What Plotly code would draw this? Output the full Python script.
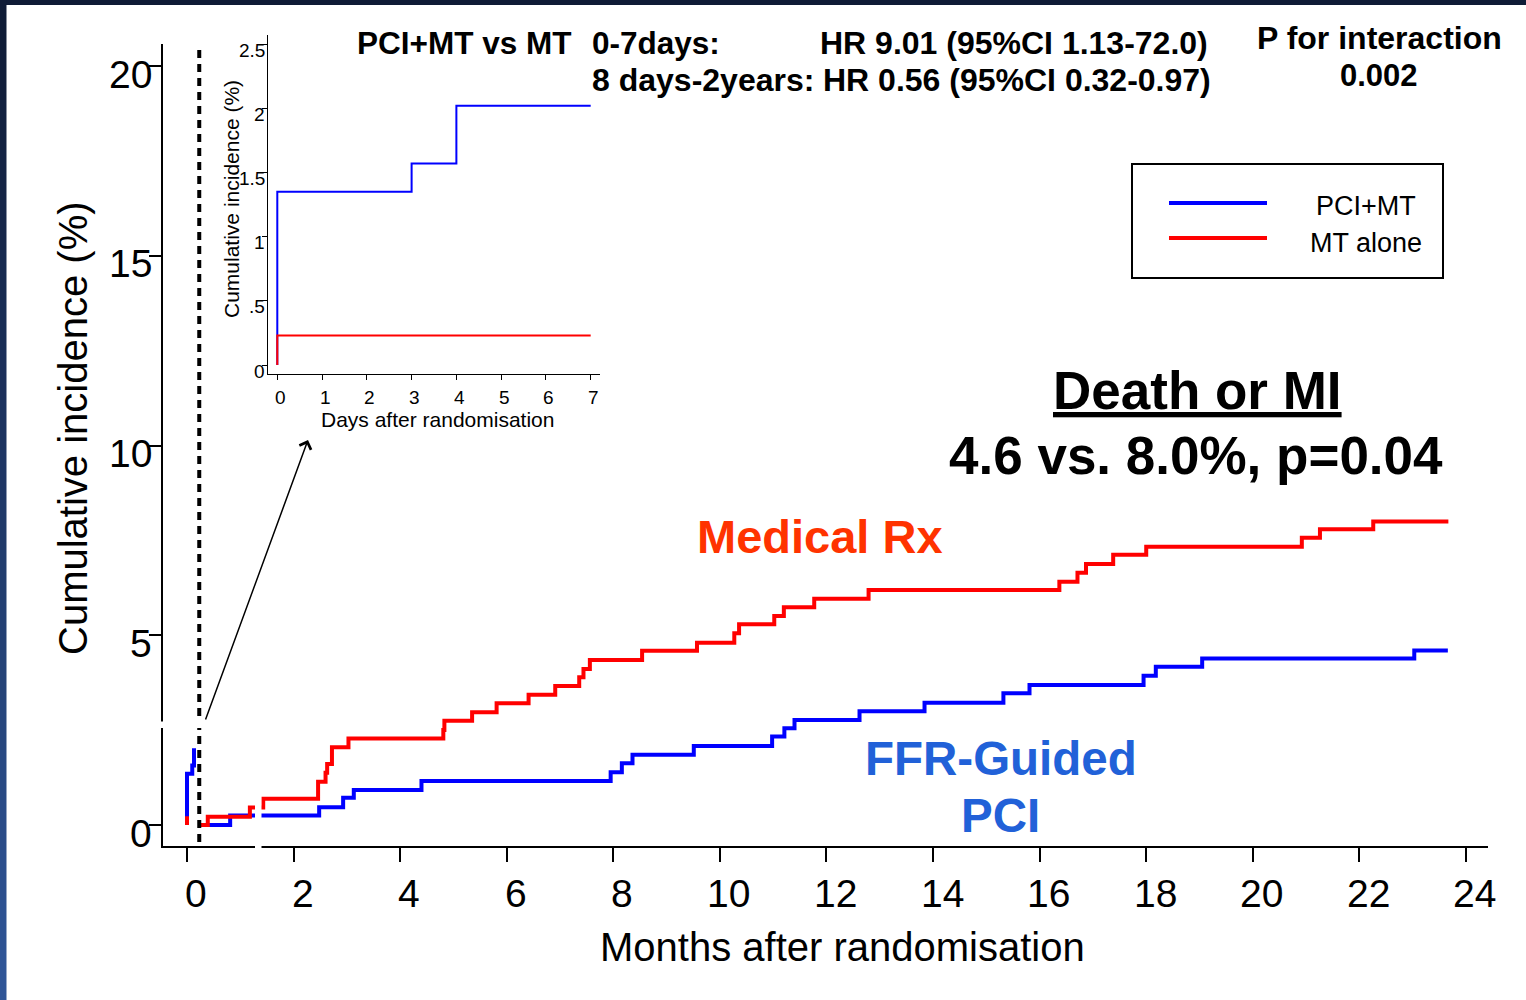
import plotly.graph_objects as go

# ---------------------------------------------------------------------------
# Data
# ---------------------------------------------------------------------------
DAYS_PER_MONTH = 30.44
LANDMARK_DAY = 7  # analysis restarts after the first week

# First week (days after randomisation), cumulative incidence in %
week_days_pci = [0, 0, 3, 4]
week_inc_pci = [0.0, 1.35, 1.57, 2.02]
week_days_mt = [0, 0]
week_inc_mt = [0.0, 0.23]

# 8 days - 2 years (months after randomisation), cumulative incidence in %
pci_months = [0.24, 0.81, 2.48, 2.93, 3.13, 4.40, 7.95, 8.16, 8.36, 9.51,
              10.98, 11.21, 11.40, 12.62, 13.84, 15.32, 15.81, 17.95, 18.18, 19.05,
              23.03, 23.66]
pci_inc = [0.0, 0.25, 0.47, 0.72, 0.92, 1.16, 1.39, 1.63, 1.85, 2.08,
           2.33, 2.55, 2.77, 3.00, 3.22, 3.47, 3.69, 3.93, 4.17, 4.39,
           4.6, 4.6]

mt_months = [0.24, 0.39, 1.18, 1.43, 2.46, 2.60, 2.63, 2.72, 3.03,
             4.81, 4.83, 5.35, 5.81, 6.41, 6.91, 7.36, 7.44, 7.56,
             8.54, 9.57, 10.27, 10.36, 11.02, 11.20, 11.77, 12.79,
             16.37, 16.71, 16.87, 17.38, 18.00,
             20.92, 21.26, 22.26, 23.67]
mt_inc = [0.0, 0.22, 0.46, 0.69, 1.14, 1.38, 1.61, 2.05, 2.28,
          2.50, 2.75, 2.97, 3.21, 3.43, 3.66, 3.89, 4.11, 4.35,
          4.59, 4.80, 5.05, 5.29, 5.51, 5.74, 5.96, 6.19,
          6.41, 6.65, 6.88, 7.12, 7.33,
          7.57, 7.79, 8.0, 8.0]

month_ticks = list(range(0, 25, 2))
inc_ticks = [0, 5, 10, 15, 20]
day_ticks = list(range(0, 8))
inset_inc_ticks = [0, 0.5, 1, 1.5, 2, 2.5]
inset_inc_labels = ["0", ".5", "1", "1.5", "2", "2.5"]

series_names = ["PCI+MT", "MT alone"]

BLUE = "#0000FF"
RED = "#FF0000"
FONT = "Liberation Sans, Arial, sans-serif"

W, H = 1526, 1000


def px(x):
    return x / W


def py(y):
    return 1 - y / H


fig = go.Figure()

# ---- main panel -----------------------------------------------------------
to_month = lambda d: [v / DAYS_PER_MONTH for v in d]

fig.add_trace(go.Scatter(x=to_month(week_days_pci), y=week_inc_pci, mode="lines",
                         line=dict(color=BLUE, width=4, shape="hv"),
                         xaxis="x", yaxis="y", showlegend=False))
fig.add_trace(go.Scatter(x=to_month(week_days_mt), y=week_inc_mt, mode="lines",
                         line=dict(color=RED, width=4, shape="hv"),
                         xaxis="x", yaxis="y", showlegend=False))
fig.add_trace(go.Scatter(x=pci_months, y=pci_inc, mode="lines", name=series_names[0],
                         line=dict(color=BLUE, width=4, shape="hv"),
                         xaxis="x", yaxis="y", showlegend=False))
fig.add_trace(go.Scatter(x=mt_months, y=mt_inc, mode="lines", name=series_names[1],
                         line=dict(color=RED, width=4, shape="hv"),
                         xaxis="x", yaxis="y", showlegend=False))

# ---- inset: first week in days ------------------------------------------
fig.add_trace(go.Scatter(x=week_days_pci + [LANDMARK_DAY], y=week_inc_pci + [week_inc_pci[-1]],
                         mode="lines", line=dict(color=BLUE, width=2, shape="hv"),
                         xaxis="x2", yaxis="y2", showlegend=False))
fig.add_trace(go.Scatter(x=week_days_mt + [LANDMARK_DAY], y=week_inc_mt + [week_inc_mt[-1]],
                         mode="lines", line=dict(color=RED, width=2, shape="hv"),
                         xaxis="x2", yaxis="y2", showlegend=False))

# ---- axes -----------------------------------------------------------------
# main: x 0 month at px 187, 53.29 px/month ; y 0 at px 825, 37.95 px/unit
x0_px, x_scale = 187, 53.29
y0_px, y_scale = 825, 37.95
main_left, main_right, main_top, main_bottom = 163, 1488, 44, 846

fig.update_layout(
    xaxis=dict(domain=[px(main_left), px(main_right)],
               range=[(main_left - x0_px) / x_scale, (main_right - x0_px) / x_scale],
               tickvals=month_ticks, showticklabels=False, ticks="outside",
               ticklen=14, tickwidth=2, tickcolor="black",
               showline=True, linewidth=2, linecolor="black",
               showgrid=False, zeroline=False, anchor="y"),
    yaxis=dict(domain=[py(main_bottom), py(main_top)],
               range=[(y0_px - main_bottom) / y_scale, (y0_px - main_top) / y_scale],
               tickvals=inc_ticks, showticklabels=False, ticks="outside",
               ticklen=12, tickwidth=2, tickcolor="black",
               showline=True, linewidth=2, linecolor="black",
               showgrid=False, zeroline=False, anchor="x"),
)

# inset: day 0 at px 277.3, 44.77 px/day ; y 0 at px 365, 128.4 px/unit
ix0_px, ix_scale = 277.3, 44.77
iy0_px, iy_scale = 365, 128.4
in_left, in_right, in_top, in_bottom = 268, 600, 35, 374

fig.update_layout(
    xaxis2=dict(domain=[px(in_left), px(in_right)],
                range=[(in_left - ix0_px) / ix_scale, (in_right - ix0_px) / ix_scale],
                tickvals=day_ticks, showticklabels=False, ticks="outside",
                ticklen=5, tickwidth=1, tickcolor="black",
                showline=True, linewidth=1.3, linecolor="black",
                showgrid=False, zeroline=False, anchor="y2"),
    yaxis2=dict(domain=[py(in_bottom), py(in_top)],
                range=[(iy0_px - in_bottom) / iy_scale, (iy0_px - in_top) / iy_scale],
                tickvals=inset_inc_ticks, showticklabels=False, ticks="outside",
                ticklen=5, tickwidth=1, tickcolor="black",
                showline=True, linewidth=1.3, linecolor="black",
                showgrid=False, zeroline=False, anchor="x2"),
)

ann = []


def text(x, y, s, size, bold=False, color="black", xanchor="center", yanchor="middle",
         xref="paper", yref="paper", xshift=0, yshift=0, angle=0):
    ann.append(dict(x=x, y=y, xref=xref, yref=yref, text=f"<b>{s}</b>" if bold else s,
                    showarrow=False, xanchor=xanchor, yanchor=yanchor,
                    xshift=xshift, yshift=yshift, textangle=angle,
                    font=dict(family=FONT, size=size, color=color)))


# main tick labels
for t in month_ticks:
    text(t, py(893), str(t), 39, xref="x", xshift=9)
for t in inc_ticks:
    text(px(154), t, str(t), 39, yref="y", xanchor="right", yshift=-8)

# inset tick labels
for t in day_ticks:
    text(t, py(397), str(t), 19, xref="x2", xshift=3)
for t, lab in zip(inset_inc_ticks, inset_inc_labels):
    text(px(267), t, lab, 19, yref="y2", xanchor="right", yshift=-6)

# axis titles
text(px(73), py(428), "Cumulative incidence (%)", 40, angle=-90)
text(px(843), py(947), "Months after randomisation", 40)
text(px(231), py(199), "Cumulative incidence (%)", 21, angle=-90)
text(px(437), py(420), "Days after randomisation", 21)

# hazard ratio header
text(px(355), py(43), "PCI+MT vs MT", 31.5, bold=True, xanchor="left")
text(px(590), py(43), "0-7days:", 31.5, bold=True, xanchor="left")
text(px(818), py(43), "HR 9.01 (95%CI 1.13-72.0)", 32, bold=True, xanchor="left")
text(px(590), py(80), "8 days-2years:", 32, bold=True, xanchor="left")
text(px(821), py(80), "HR 0.56 (95%CI 0.32-0.97)", 32, bold=True, xanchor="left")
text(px(1379), py(38), "P for interaction", 32, bold=True)
text(px(1379), py(76), "0.002", 31, bold=True)

# headline result
text(px(1197), py(390), "<u>Death or MI</u>", 53, bold=True)
text(px(1196), py(455), "4.6 vs. 8.0%, p=0.04", 53, bold=True)

# curve labels
text(px(820), py(536), "Medical Rx", 47, bold=True, color="#FF3300")
text(px(1001), py(758), "FFR-Guided", 47.5, bold=True, color="#2161D8")
text(px(1001), py(815), "PCI", 47.5, bold=True, color="#2161D8")

# legend labels
text(px(1366), py(206), series_names[0], 27)
text(px(1366), py(243), series_names[1], 27)

# arrow pointing from the first week up to the inset
ann.append(dict(x=px(308), y=py(440), xref="paper", yref="paper", text="",
                showarrow=True, ax=205 - 308, ay=721 - 440, axref="pixel", ayref="pixel",
                arrowhead=4, arrowsize=1.6, arrowwidth=1.5, arrowcolor="black",
                standoff=0))

fig.update_layout(annotations=ann)

shapes = []
# landmark line at day 7
shapes.append(dict(type="line", xref="x", yref="paper",
                   x0=LANDMARK_DAY / DAYS_PER_MONTH, x1=LANDMARK_DAY / DAYS_PER_MONTH,
                   y0=py(50), y1=py(847),
                   line=dict(color="black", width=4, dash="8px,6px"), layer="above"))
# axis breaks
shapes.append(dict(type="rect", xref="paper", yref="paper",
                   x0=px(255), x1=px(261.5), y0=py(795), y1=py(866),
                   fillcolor="white", line=dict(width=0), layer="above"))
shapes.append(dict(type="rect", xref="paper", yref="paper",
                   x0=px(150), x1=px(214), y0=py(721.5), y1=py(728),
                   fillcolor="white", line=dict(width=0), layer="above"))
# legend box
shapes.append(dict(type="rect", xref="paper", yref="paper",
                   x0=px(1132), x1=px(1443), y0=py(164), y1=py(278),
                   fillcolor="white", line=dict(color="black", width=2), layer="above"))
shapes.append(dict(type="line", xref="paper", yref="paper",
                   x0=px(1169), x1=px(1267), y0=py(203), y1=py(203),
                   line=dict(color=BLUE, width=4), layer="above"))
shapes.append(dict(type="line", xref="paper", yref="paper",
                   x0=px(1169), x1=px(1267), y0=py(238), y1=py(238),
                   line=dict(color=RED, width=4), layer="above"))

# slide frame: dark band on top, blue gradient band on the left
shapes.append(dict(type="rect", xref="paper", yref="paper", x0=0, x1=1, y0=py(5), y1=1,
                   fillcolor="#0F1B36", line=dict(width=0), layer="above"))
n_seg = 20
c_top = (15, 27, 54)
c_bot = (47, 85, 151)
for i in range(n_seg):
    f = i / (n_seg - 1)
    c = tuple(int(round(a + (b - a) * f)) for a, b in zip(c_top, c_bot))
    shapes.append(dict(type="rect", xref="paper", yref="paper",
                       x0=0, x1=px(6.5), y0=py(H * (i + 1) / n_seg), y1=py(H * i / n_seg),
                       fillcolor="rgb(%d,%d,%d)" % c, line=dict(width=0), layer="above"))

fig.update_layout(shapes=shapes)

fig.update_layout(
    width=W, height=H,
    margin=dict(l=0, r=0, t=0, b=0),
    paper_bgcolor="white", plot_bgcolor="white",
    showlegend=False,
    font=dict(family=FONT, color="black"),
)

fig.write_html("out.html")
